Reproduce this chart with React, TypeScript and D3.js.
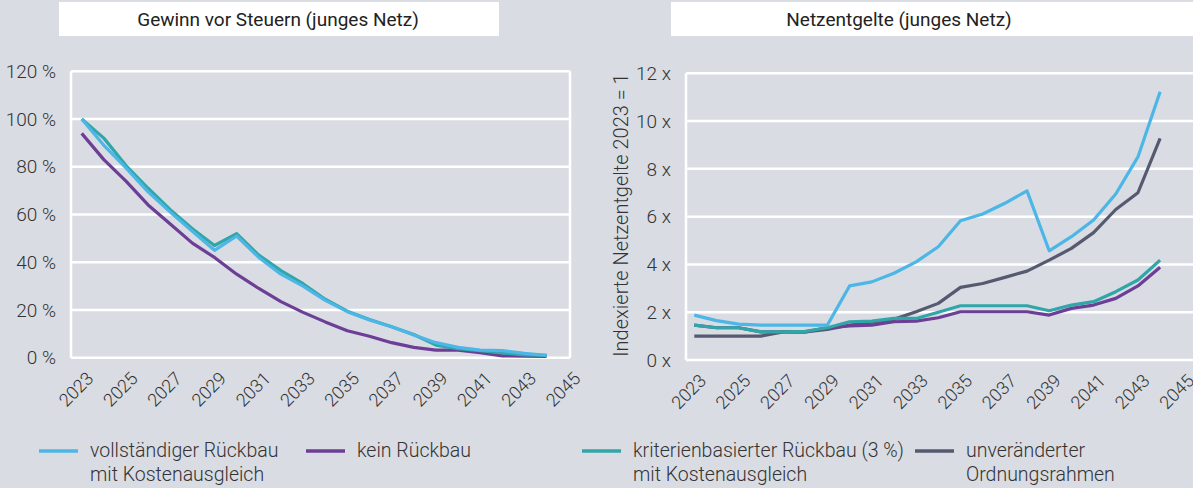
import React from 'react';
import * as d3 from 'd3';

const years = [2023, 2024, 2025, 2026, 2027, 2028, 2029, 2030, 2031, 2032, 2033, 2034, 2035, 2036, 2037, 2038, 2039, 2040, 2041, 2042, 2043, 2044];
const tickYears = [2023, 2025, 2027, 2029, 2031, 2033, 2035, 2037, 2039, 2041, 2043, 2045];

// Gewinn vor Steuern in % (2023 = 100 %)
const gewinnVoll = [100, 89, 79.5, 69.5, 61, 53, 45, 51, 42, 35, 30, 24, 19.3, 15.8, 13, 9.5, 6.3, 4.3, 3.2, 3, 1.8, 1];
const gewinnKein = [94, 83, 74, 64, 56, 48, 42, 35, 29, 23.5, 19, 15, 11.3, 9, 6.3, 4.3, 3.2, 3.2, 2.1, 0.8, 0.7, 0.5];
const gewinnKrit = [100, 92, 80.5, 71, 62, 54, 47, 52, 43, 36.5, 31, 24.5, 19.5, 16, 13, 9.7, 5.3, 3.8, 3, 2, 1.2, 1];

// Netzentgelte, indexiert 2023 = 1
const entgeltVoll = [1.88, 1.65, 1.5, 1.46, 1.46, 1.46, 1.46, 3.1, 3.27, 3.63, 4.11, 4.74, 5.83, 6.11, 6.56, 7.08, 4.57, 5.16, 5.86, 6.95, 8.5, 11.23];
const entgeltKein = [1.46, 1.35, 1.35, 1.18, 1.18, 1.18, 1.35, 1.43, 1.46, 1.6, 1.63, 1.77, 2.02, 2.02, 2.02, 2.02, 1.88, 2.16, 2.3, 2.58, 3.1, 3.88];
const entgeltKrit = [1.46, 1.35, 1.35, 1.18, 1.18, 1.2, 1.35, 1.6, 1.63, 1.74, 1.74, 2.0, 2.27, 2.27, 2.27, 2.27, 2.06, 2.3, 2.44, 2.86, 3.35, 4.18];
const entgeltAlt = [1.0, 1.0, 1.0, 1.0, 1.18, 1.18, 1.28, 1.46, 1.58, 1.7, 2.02, 2.37, 3.04, 3.2, 3.46, 3.72, 4.18, 4.67, 5.33, 6.3, 7.0, 9.28];

const pctTicks = [0, 20, 40, 60, 80, 100, 120];
const multTicks = [0, 2, 4, 6, 8, 10, 12];

const colors = {
  voll: '#4cb6e6',
  kein: '#6c3e96',
  krit: '#30a6a8',
  alt: '#555a70',
};

const legendItems = [
  { color: colors.voll, lines: ['vollständiger Rückbau', 'mit Kostenausgleich'], x: 39 },
  { color: colors.kein, lines: ['kein Rückbau'], x: 306 },
  { color: colors.krit, lines: ['kriterienbasierter Rückbau (3 %)', 'mit Kostenausgleich'], x: 582 },
  { color: colors.alt, lines: ['unveränderter', 'Ordnungsrahmen'], x: 915 },
];

const BG = '#d9dce3';
const TEXT = '#333';
const FONT = 'Roboto, sans-serif';

function Panel({ x0, x1, yTop, yBottom, xFirst, xLast, yDomain, ticks, fmt, series }) {
  const x = d3.scaleLinear().domain([2023, 2045]).range([xFirst, xLast]);
  const y = d3.scaleLinear().domain(yDomain).range([yBottom, yTop]);
  const line = d3.line<number>().x((d, i) => x(years[i])).y(d => y(d));

  return (
    <g>
      {ticks.map(t => (
        <g key={t}>
          <line x1={x0} x2={x1} y1={y(t)} y2={y(t)} stroke="#fff" strokeWidth={2.5} />
          <text x={x0 - 15} y={y(t)} dy="0.35em" textAnchor="end" fontSize={19} fill={TEXT}
            fontFamily={FONT} fontWeight={300}>{fmt(t)}</text>
        </g>
      ))}
      <line x1={x0} x2={x0} y1={yTop} y2={yBottom} stroke="#fff" strokeWidth={2.5} />
      <line x1={x1} x2={x1} y1={yTop} y2={yBottom} stroke="#fff" strokeWidth={2.5} />
      {tickYears.map(t => (
        <text key={t} transform={`translate(${x(t) + 4},${yBottom + 13}) rotate(-45)`} textAnchor="end"
          dy="0.7em" fontSize={18} fill={TEXT} fontFamily={FONT} fontWeight={300}>{t}</text>
      ))}
      {series.map(s => (
        <path key={s.key} d={line(s.values) || ''} fill="none" stroke={s.color} strokeWidth={3.2}
          strokeLinejoin="round" />
      ))}
    </g>
  );
}

export default function App() {
  return (
    <div style={{ position: 'absolute', left: 0, top: 0 }}>
      <svg width={1193} height={488} style={{ display: 'block', background: BG }}>
        <rect x={59} y={2} width={440} height={34} fill="#fff" />
        <text x={278} y={26} textAnchor="middle" fontSize={19} fill="#222" fontFamily={FONT}>
          Gewinn vor Steuern (junges Netz)
        </text>
        <rect x={671} y={2} width={530} height={34} fill="#fff" />
        <text x={899} y={26} textAnchor="middle" fontSize={19} fill="#222" fontFamily={FONT}>
          Netzentgelte (junges Netz)
        </text>

        <Panel x0={71} x1={570} yTop={71.3} yBottom={357.7} xFirst={81.7} xLast={568.7}
          yDomain={[0, 120]} ticks={pctTicks} fmt={t => `${t} %`}
          series={[
            { key: 'kein', color: colors.kein, values: gewinnKein },
            { key: 'krit', color: colors.krit, values: gewinnKrit },
            { key: 'voll', color: colors.voll, values: gewinnVoll },
          ]} />

        <Panel x0={686} x1={1200} yTop={73.3} yBottom={360} xFirst={694.3} xLast={1182.3}
          yDomain={[0, 12]} ticks={multTicks} fmt={t => `${t} x`}
          series={[
            { key: 'alt', color: colors.alt, values: entgeltAlt },
            { key: 'kein', color: colors.kein, values: entgeltKein },
            { key: 'krit', color: colors.krit, values: entgeltKrit },
            { key: 'voll', color: colors.voll, values: entgeltVoll },
          ]} />

        <text transform="translate(628,215) rotate(-90)" textAnchor="middle" fontSize={20}
          fill={TEXT} fontFamily={FONT} fontWeight={300}>Indexierte Netzentgelte 2023 = 1</text>

        {legendItems.map(item => (
          <g key={item.lines[0]}>
            <line x1={item.x} x2={item.x + 39} y1={451} y2={451} stroke={item.color} strokeWidth={3.5} />
            {item.lines.map((l, i) => (
              <text key={l} x={item.x + 51} y={457 + i * 24} fontSize={19.5} fill={TEXT}
                fontFamily={FONT} fontWeight={300}>{l}</text>
            ))}
          </g>
        ))}
      </svg>
    </div>
  );
}
